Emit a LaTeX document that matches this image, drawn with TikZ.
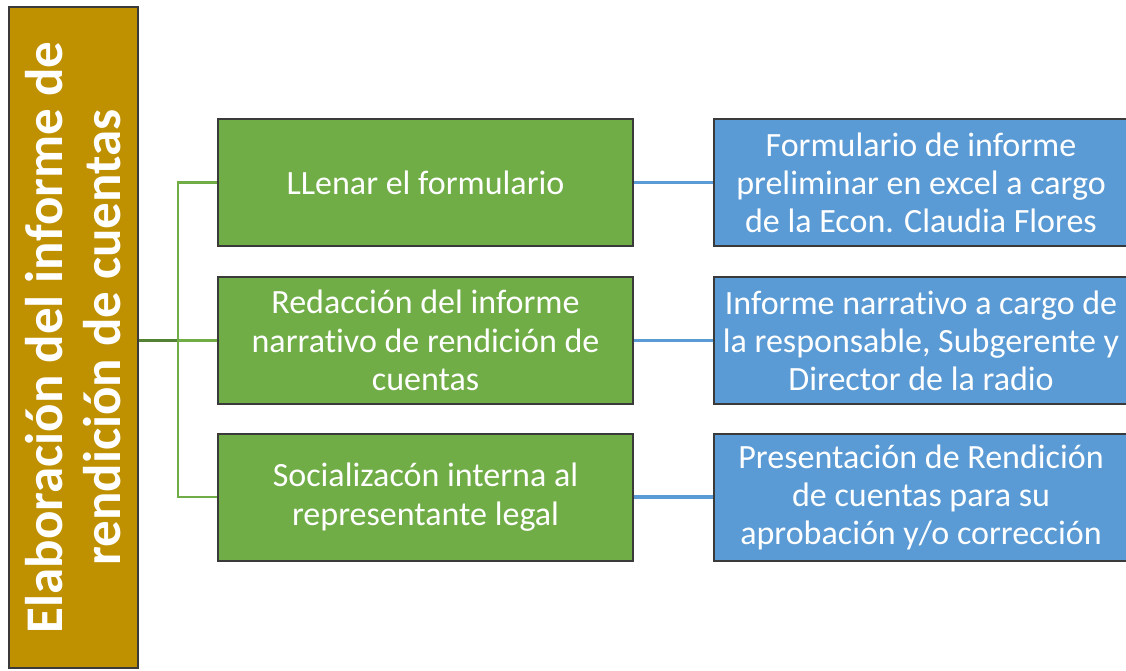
\documentclass[tikz,border=0pt]{standalone}
\usepackage{fontspec}
\setmainfont{Carlito}[Ligatures=NoCommon]
\usetikzlibrary{positioning,calc}
\definecolor{oro}{HTML}{BF9000}
\definecolor{verde}{HTML}{70AD47}
\definecolor{verdeosc}{HTML}{548235}
\definecolor{azul}{HTML}{5B9BD5}
\definecolor{borde}{HTML}{3A3A3A}
\tikzstyle{titulo} = [rectangle, draw=borde, line width=2pt, fill=oro, text=white, minimum width=661pt, minimum height=129pt, align=center, font=\fontsize{53}{58}\selectfont\bfseries]
\tikzstyle{paso} = [rectangle, draw=borde, line width=2pt, fill=verde, text=white, minimum width=415pt, minimum height=127pt, align=center, font=\fontsize{34}{38.5}\selectfont]
\tikzstyle{nota} = [rectangle, draw=borde, line width=2pt, fill=azul, text=white, minimum width=414pt, minimum height=127pt, align=center, font=\fontsize{34}{38}\selectfont]
\tikzstyle{lverde} = [draw=verde, line width=2.5pt]
\tikzstyle{lazul} = [draw=azul, line width=3.5pt]
\begin{document}
\begin{tikzpicture}[x=1pt, y=-1pt]
\useasboundingbox (0,0) rectangle (1126,670);
\node(T)[titulo, rotate=90] at (73.5,337.5) {Elaboración del informe de\\rendición de cuentas};
\node(A)[paso] at (425.5,182.5) {LLenar el formulario};
\node(B)[paso] at (425.5,340.5) {Redacción del informe\\narrativo de rendición de\\cuentas};
\node(C)[paso] at (425.5,497) {Socializacón interna al\\representante legal};
\node(D)[nota, right=79pt of A] {Formulario de informe\\preliminar en excel a cargo\\de la Econ. Claudia Flores};
\node(E)[nota, right=79pt of B] {Informe narrativo a cargo de\\la responsable, Subgerente y\\Director de la radio};
\node(F)[nota, right=79pt of C] {Presentación de Rendición\\de cuentas para su\\aprobación y/o corrección};
% arbol
\coordinate(S) at ($(T.south |- B.west)!0.5!(B.west)$);
\draw[lverde, draw=verdeosc] (T.south |- B.west) -- (S);
\draw[lverde] (S) -- (B.west);
\draw[lverde] (A.west) -| (S) |- (C.west);
\draw[lazul] (A.east) -- (D.west);
\draw[lazul] (B.east) -- (E.west);
\draw[lazul] (C.east) -- (F.west);
\end{tikzpicture}
\end{document}
